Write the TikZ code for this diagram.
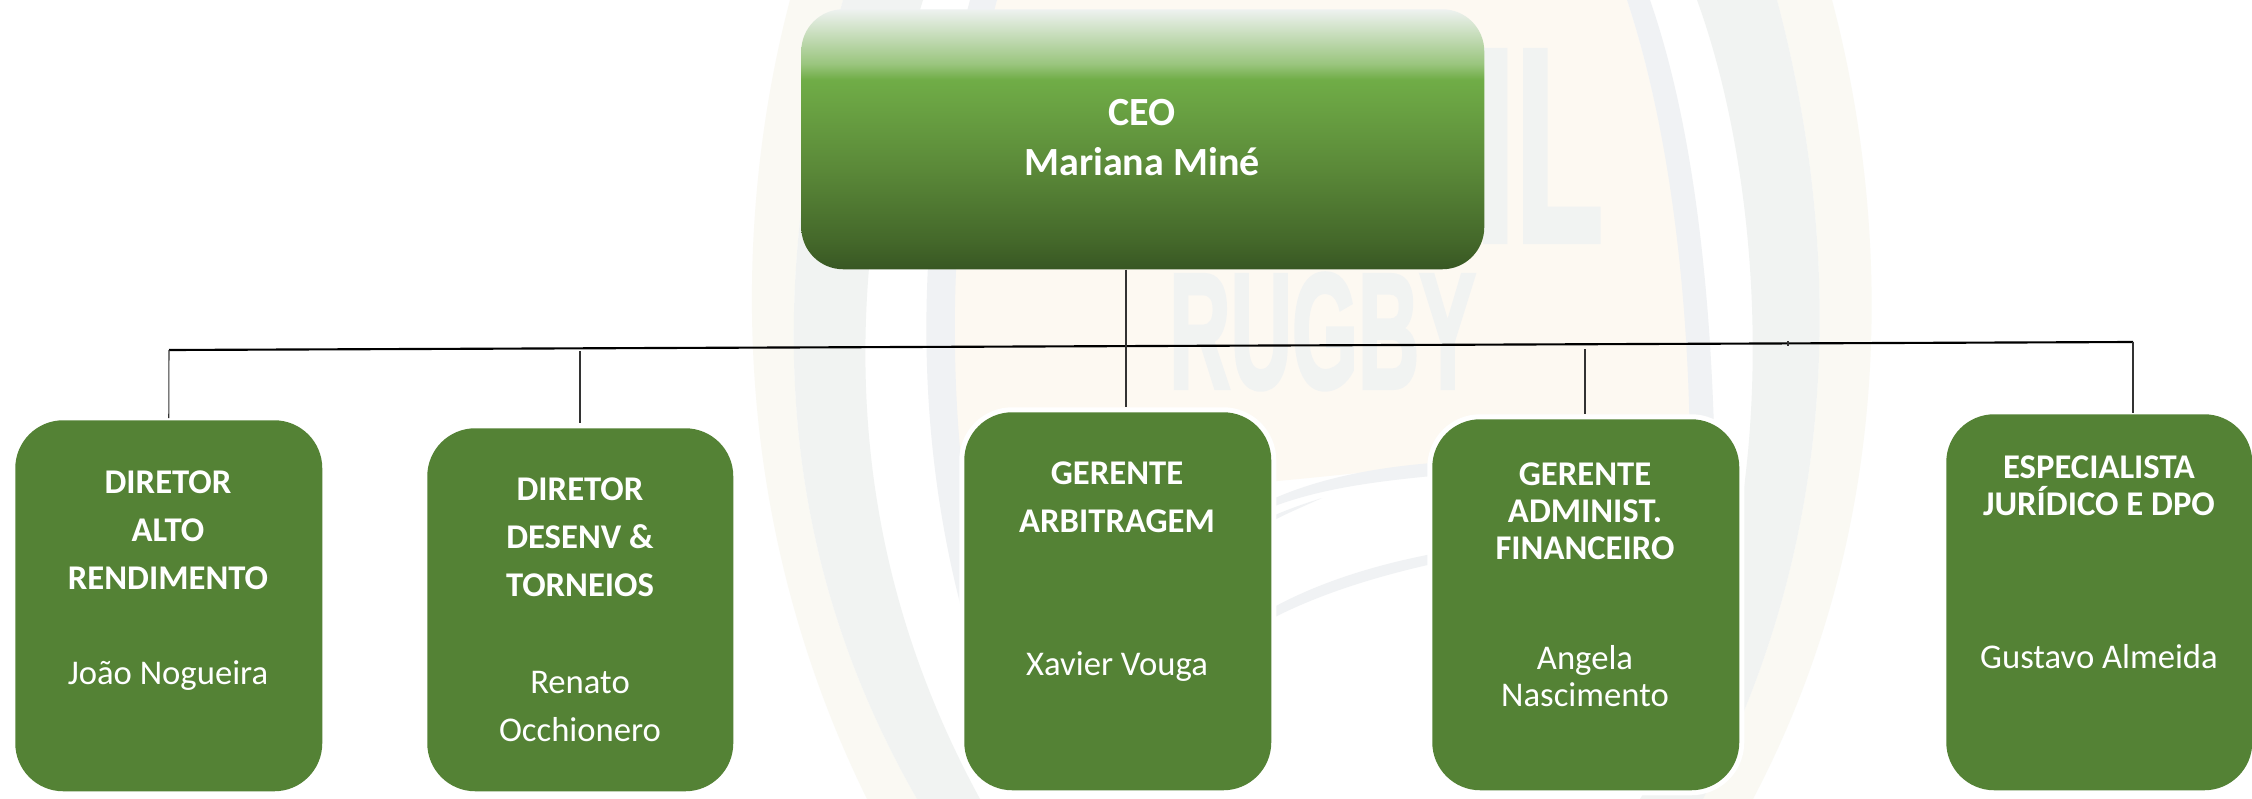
\documentclass[tikz,border=0pt]{standalone}
\usepackage{fontspec}
\setmainfont{Carlito}
\newfontfamily\wmfont[BoldFeatures={FakeBold=2.5}]{Liberation Sans}
\definecolor{boxgreen}{HTML}{548235}
\definecolor{wmgrey}{HTML}{F1F3F2}
\definecolor{wmgreyb}{HTML}{F0F2F4}
\definecolor{wmcream}{HTML}{FDF9F2}
\definecolor{wmcreamb}{HTML}{FAF9F3}
\definecolor{ceoa}{HTML}{385723}
\definecolor{ceob}{HTML}{44682A}
\definecolor{ceoc}{HTML}{5A8838}
\definecolor{ceod}{HTML}{70AD47}
\definecolor{ceoe}{HTML}{9AC57E}
\definecolor{ceof}{HTML}{EEF2F0}
\pgfdeclareverticalshading{ceoshade}{100bp}{
 color(0bp)=(ceoa);
 color(25bp)=(ceoa);
 color(30.5bp)=(ceob);
 color(44bp)=(ceoc);
 color(61.5bp)=(ceod);
 color(64.5bp)=(ceoe);
 color(75bp)=(ceof);
 color(100bp)=(ceof)}
\tikzset{
 x=0.75pt,y=-0.75pt,
 unit/.style={fill=boxgreen,rounded corners=36pt,inner sep=0pt,anchor=north west,
   preaction={draw=white,line width=7.5pt}},
 lbl/.style={text=white,align=center,inner sep=0pt},
 wide/.style={lbl,font=\fontsize{26pt}{36pt}\selectfont},
 tight/.style={lbl,font=\fontsize{26pt}{27.75pt}\selectfont},
 conn/.style={draw=black!80,line width=0.8pt},
 bus/.style={draw=black,line width=1.6pt},
 wmtext/.style={text=wmgrey,inner sep=0pt}
}
\begin{document}
\begin{tikzpicture}
\useasboundingbox (0,0) rectangle (2252,799);
\fill[white] (0,0) rectangle (2252,799);
% watermark: outer cream bands
\fill[wmcreamb] (790,0) .. controls (745,170) and (710,480) .. (867,799) -- (917,799) .. controls (780,560) and (760,300) .. (843,0) -- cycle;
\fill[wmcreamb] (1777,0) .. controls (1830,200) and (1860,500) .. (1703,799) -- (1753,799) .. controls (1900,520) and (1890,220) .. (1832,0) -- cycle;
% grey bands
\fill[wmgrey] (843,0) .. controls (760,300) and (780,560) .. (917,799) -- (980,799) .. controls (850,560) and (830,300) .. (923,0) -- cycle;
\fill[wmgrey] (1697,0) .. controls (1770,200) and (1790,560) .. (1640,799) -- (1703,799) .. controls (1860,500) and (1830,200) .. (1777,0) -- cycle;
% inner cream
\fill[wmcream] (997,0) .. controls (945,170) and (935,350) .. (960,497) .. controls (1100,500) and (1300,480) .. (1430,465) -- (1700,465) .. controls (1690,300) and (1670,130) .. (1627,0) -- cycle;
% inner grey bands
\fill[wmgreyb] (970,0) .. controls (925,170) and (900,400) .. (970,640) -- (990,640) .. controls (935,400) and (950,170) .. (997,0) -- cycle;
\fill[wmgreyb] (1627,0) .. controls (1670,130) and (1690,300) .. (1690,470) -- (1715,470) .. controls (1712,300) and (1695,130) .. (1650,0) -- cycle;
% logo arcs
\fill[wmgreyb] (1260,505) .. controls (1310,480) and (1370,468) .. (1432,463) -- (1432,476) .. controls (1370,482) and (1310,490) .. (1260,512) -- cycle;
\fill[wmgreyb] (1260,522) .. controls (1280,512) and (1300,505) .. (1322,498) .. controls (1300,508) and (1280,516) .. (1260,528) -- cycle;
\fill[wmgreyb] (1260,615) .. controls (1310,585) and (1370,566) .. (1432,554) -- (1432,564) .. controls (1370,578) and (1310,597) .. (1260,625) -- cycle;
% logo lettering
\node[wmtext,anchor=north west] (wmi) at (1475,51) {\resizebox{96pt}{142pt}{\wmfont\bfseries IL}};
\node[wmtext,anchor=north west] (wmr) at (1169,273) {\resizebox{230pt}{86pt}{\wmfont\bfseries RUGBY}};
% CEO box
\node[minimum width=512.25pt,minimum height=195pt,rounded corners=31.5pt,shade,shading=ceoshade,anchor=north west,inner sep=0pt] (ceo) at (801,9) {};
\node[lbl,font=\bfseries\fontsize{30pt}{37.5pt}\selectfont] (ceotext) at (1142,138) {CEO\\Mariana Miné};
% staff boxes
\node[unit,minimum width=230.25pt,minimum height=278.25pt] (b1) at (15,420) {};
\node[unit,minimum width=229.5pt,minimum height=272.25pt] (b2) at (427,428) {};
\node[unit,minimum width=230.25pt,minimum height=283.5pt] (b3) at (964,412) {};
\node[unit,minimum width=230.25pt,minimum height=278.25pt] (b4) at (1432,419) {};
\node[unit,minimum width=229.5pt,minimum height=282pt] (b5) at (1946,414) {};
% labels
\node[wide] (t1) at (168,530) {\textbf{DIRETOR}\\\textbf{ALTO}\\\textbf{RENDIMENTO}};
\node[wide] (n1) at (168,676) {João Nogueira};
\node[wide] (t2) at (580,537) {\textbf{DIRETOR}\\\textbf{DESENV \&}\\\textbf{TORNEIOS}};
\node[wide] (n2) at (580,706) {Renato\\Occhionero};
\node[wide] (t3) at (1117,497) {\textbf{GERENTE}\\\textbf{ARBITRAGEM}};
\node[wide] (n3) at (1117,667) {Xavier Vouga};
\node[tight] (t4) at (1585,511) {\textbf{GERENTE}\\\textbf{ADMINIST.}\\\textbf{FINANCEIRO}};
\node[tight] (n4) at (1585,676) {Angela\\Nascimento};
\node[tight] (t5) at (2099,486) {\textbf{ESPECIALISTA}\\\textbf{JURÍDICO E DPO}};
\node[tight] (n5) at (2099,657) {Gustavo Almeida};
% connectors
\coordinate (bl) at (169,350);
\coordinate (br) at (2133,342);
\coordinate (j2) at (580,351);
\coordinate (j3) at (1126,346.5);
\coordinate (j4) at (1585,349);
\coordinate (tk) at (1788,341);
\coordinate (tkb) at (1788,346);
\draw[bus] (bl) -- (br);
\draw[conn] (ceo.south -| j3) -- (j3) -- ([yshift=3.75pt]b3.north -| j3);
\draw[conn] (bl) -- ([yshift=1.5pt]b1.north);
\draw[conn] (j2) -- ([yshift=3.75pt]b2.north -| j2);
\draw[conn] (j4) -- ([yshift=3.75pt]b4.north -| j4);
\draw[conn] (br) -- ([yshift=0.75pt]b5.north -| br);
\draw[conn] (tk) -- (tkb);
\end{tikzpicture}
\end{document}
